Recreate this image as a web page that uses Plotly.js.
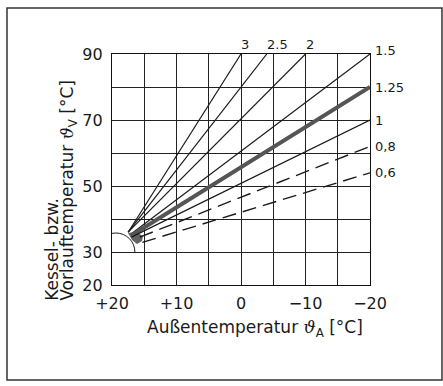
<!DOCTYPE html>
<html><head><meta charset="utf-8">
<script src="https://cdn.plot.ly/plotly-3.0.1.min.js"></script>
<style>html,body{margin:0;padding:0;background:#fff}#chart{width:443px;height:386px}</style>
</head><body><div id="chart"></div>
<script>
// Heating curves: slope label, start point (common hub) and end point
const curveLabels = ['3', '2.5', '2', '1.5', '1.25', '1', '0,8', '0,6'];
const startX = [17.5, 17.5, 17.5, 17, 17, 17, 15.7, 15.3];
const startY = [36, 36, 36, 35.5, 35, 34.5, 34.5, 32.9];
const endX = [0, -4, -10, -20, -20, -20, -20, -20];
const endY = [90, 90, 90, 90, 80, 70, 62, 54];

const xTickVals = [20, 15, 10, 5, 0, -5, -10, -15, -20];
const xTickText = ['+20', '', '+10', '', '0', '', '\u221210', '', '\u221220'];
const yTickVals = [20, 30, 40, 50, 60, 70, 80, 90];
const yTickText = ['20', '30', '', '50', '', '70', '', '90'];

// dark blob where the curves meet
const hubX = [17.52, 16.28, 15.19, 15.35, 16.12, 16.9];
const hubY = [35.76, 36.06, 34.85, 33.33, 32.42, 33.64];

// small arc around the hub (centre and radii in data units)
const arcCenter = [19.4, 30];
const arcRadius = [2.95, 5.76];

const ink = '#1a1a1a';
const traces = [{
  type: 'scatter', mode: 'lines', x: hubX, y: hubY, fill: 'toself',
  fillcolor: 'rgba(70,70,70,0.85)', line: {width: 0, color: 'rgba(0,0,0,0)'},
  hoverinfo: 'skip', showlegend: false
}].concat(curveLabels.map((lab, i) => {
  let line = {color: ink, width: 1.2};
  if (lab === '1.25') line = {color: '#555', width: 4};
  if (lab === '0,8' || lab === '0,6') line = {color: ink, width: 1.4, dash: '14px,7px'};
  return {
    type: 'scatter', mode: 'lines', name: lab,
    x: [startX[i], endX[i]], y: [startY[i], endY[i]],
    line: line, hoverinfo: 'skip', showlegend: false
  };
}));

const annotations = curveLabels.map((lab, i) => {
  const top = endY[i] === 90 && endX[i] !== -20;
  return {
    x: endX[i], y: endY[i], xref: 'x', yref: 'y', text: lab, showarrow: false,
    xanchor: 'left', yanchor: top ? 'bottom' : 'middle',
    xshift: top ? -2 : 3, yshift: top ? 0 : (lab === '1.5' ? 4 : 0),
    font: {family: 'DejaVu Sans', size: 13, color: ink}
  };
});

const theta = '<span style="font-family:\'DejaVu Serif\';font-style:italic">\u03D1</span>';
annotations.push({
  xref: 'paper', yref: 'paper', x: -0.2326, y: -0.075, xanchor: 'center', yanchor: 'bottom',
  textangle: -90, showarrow: false, text: 'Kessel- bzw.',
  font: {family: 'DejaVu Sans', size: 17, color: ink}
});
annotations.push({
  xref: 'paper', yref: 'paper', x: -0.1667, y: -0.075, xanchor: 'center', yanchor: 'bottom',
  textangle: -90, showarrow: false, text: 'Vorlauftemperatur ' + theta + '<sub>V</sub> [°C]',
  font: {family: 'DejaVu Sans', size: 17, color: ink}
});
annotations.push({
  xref: 'paper', yref: 'paper', x: 0.128, y: -0.19, xanchor: 'left', yanchor: 'middle',
  showarrow: false, text: 'Außentemperatur ' + theta + '<sub>A</sub> [°C]',
  font: {family: 'DejaVu Sans', size: 17, color: ink}
});

const k = 0.5523;
const cx = arcCenter[0], cy = arcCenter[1], rx = arcRadius[0], ry = arcRadius[1];
const arcPath = 'M ' + (cx - rx) + ',' + cy +
  ' C ' + (cx - rx) + ',' + (cy + k * ry) + ' ' + (cx - k * rx) + ',' + (cy + ry) + ' ' + cx + ',' + (cy + ry) +
  ' C ' + (cx + k * rx) + ',' + (cy + ry) + ' ' + (cx + rx) + ',' + (cy + k * ry) + ' ' + (cx + rx) + ',' + cy;

const layout = {
  width: 443, height: 386,
  margin: {l: 112, r: 73, t: 54, b: 101},
  paper_bgcolor: '#fff', plot_bgcolor: '#fff',
  xaxis: {
    range: [20, -20], tickmode: 'array', tickvals: xTickVals, ticktext: xTickText,
    showgrid: true, gridcolor: '#222', gridwidth: 1, zeroline: false,
    showline: true, mirror: true, linecolor: '#111', linewidth: 1.2,
    ticks: '', ticklabelstandoff: 4,
    tickfont: {family: 'DejaVu Sans', size: 16, color: ink}
  },
  yaxis: {
    range: [20, 90], tickmode: 'array', tickvals: yTickVals, ticktext: yTickText,
    showgrid: true, gridcolor: '#222', gridwidth: 1, zeroline: false,
    showline: true, mirror: true, linecolor: '#111', linewidth: 1.2,
    ticks: '', ticklabelstandoff: 5,
    tickfont: {family: 'DejaVu Sans', size: 16, color: ink}
  },
  shapes: [
    {type: 'path', xref: 'x', yref: 'y', path: arcPath, line: {color: ink, width: 1}, layer: 'above'},
    {type: 'rect', xref: 'paper', yref: 'paper', x0: -0.407, x1: 1.279, y0: -0.411, y1: 1.199,
     line: {color: '#333', width: 1.5}}
  ],
  annotations: annotations
};

Plotly.newPlot('chart', traces, layout, {displayModeBar: false, staticPlot: true});
</script></body></html>
